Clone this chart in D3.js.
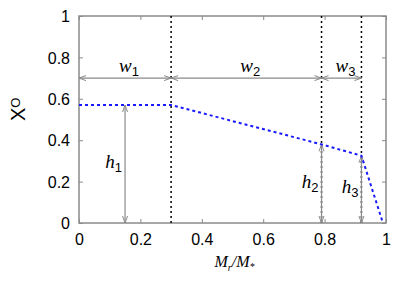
<!DOCTYPE html>
<html lang="en">
<head>
<meta charset="UTF-8">
<title>X_O profile</title>
<script src="https://d3js.org/d3.v7.min.js"></script>
<style>
  body { margin: 0; background: #fff; }
  text { font-family: "Liberation Sans", Arial, sans-serif; }
  .it { font-family: "Liberation Serif", "Times New Roman", serif; font-style: italic; }
</style>
</head>
<body>
<svg id="chart" width="415" height="291"></svg>
<script>
// profile of X_O against M_r/M_*
const profileX = [0, 0.3, 0.79, 0.92, 0.99];
const profileY = [0.57, 0.57, 0.38, 0.325, 0];

// zone boundaries (vertical dotted lines)
const bounds = [0.3, 0.79, 0.92];

// width arrows w1..w3 at X_O = 0.7
const wFrom = [0, 0.3, 0.79];
const wTo = [0.3, 0.79, 0.92];
const wLevel = 0.7;
const wNames = ["1", "2", "3"];

// height arrows h1..h3
const hX = [0.15, 0.79, 0.92];
const hTop = [0.57, 0.38, 0.325];
const hNames = ["1", "2", "3"];

const xTicks = [0, 0.2, 0.4, 0.6, 0.8, 1];
const yTicks = [0, 0.2, 0.4, 0.6, 0.8, 1];

const margin = { top: 16, right: 29, bottom: 68, left: 79 };
const width = 415 - margin.left - margin.right;
const height = 291 - margin.top - margin.bottom;

const svg = d3.select("#chart");
const g = svg.append("g")
    .attr("transform", `translate(${margin.left},${margin.top})`);

const x = d3.scaleLinear().domain([0, 1]).range([0, width]);
const y = d3.scaleLinear().domain([0, 1]).range([height, 0]);

const gray = "#8a8a8a";

// arrowhead marker (open, gnuplot style)
svg.append("defs").append("marker")
    .attr("id", "head")
    .attr("viewBox", "-8 -4 9 8")
    .attr("refX", 0).attr("refY", 0)
    .attr("markerWidth", 9).attr("markerHeight", 8)
    .attr("markerUnits", "userSpaceOnUse")
    .attr("orient", "auto-start-reverse")
    .append("path")
    .attr("d", "M-7,-2.5L0,0L-7,2.5")
    .attr("fill", "none")
    .attr("stroke", gray)
    .attr("stroke-width", 1);

// ticks (inside, mirrored)
const tickLen = 4;
g.append("g").call(d3.axisBottom(x).tickValues(xTicks).tickSize(-tickLen).tickFormat(d3.format("")))
    .attr("transform", `translate(0,${height})`)
    .call(a => a.select(".domain").remove())
    .call(a => a.selectAll("line").attr("stroke", gray))
    .call(a => a.selectAll("text").attr("dy", null).attr("y", 22)
        .attr("font-size", 16).attr("fill", "#000"));
g.append("g").call(d3.axisTop(x).tickValues(xTicks).tickSize(-tickLen).tickFormat(""))
    .call(a => a.select(".domain").remove())
    .call(a => a.selectAll("line").attr("stroke", gray));
g.append("g").call(d3.axisLeft(y).tickValues(yTicks).tickSize(-tickLen).tickFormat(d3.format("")))
    .call(a => a.select(".domain").remove())
    .call(a => a.selectAll("line").attr("stroke", gray))
    .call(a => a.selectAll("text").attr("x", -9).attr("dy", "0.35em")
        .attr("font-size", 16).attr("fill", "#000"));
g.append("g").call(d3.axisRight(y).tickValues(yTicks).tickSize(-tickLen).tickFormat(""))
    .attr("transform", `translate(${width},0)`)
    .call(a => a.select(".domain").remove())
    .call(a => a.selectAll("line").attr("stroke", gray));

// frame
g.append("rect")
    .attr("x", 0).attr("y", 0)
    .attr("width", width).attr("height", height)
    .attr("fill", "none")
    .attr("stroke", gray)
    .attr("stroke-width", 1.5);

// vertical dotted boundaries
g.selectAll(".bound").data(bounds).enter().append("line")
    .attr("x1", d => x(d)).attr("x2", d => x(d))
    .attr("y1", y(1)).attr("y2", y(0))
    .attr("stroke", "#000")
    .attr("stroke-width", 1.5)
    .attr("stroke-dasharray", "2,3");

// w arrows
g.selectAll(".warr").data(wFrom).enter().append("line")
    .attr("x1", d => x(d)).attr("x2", (d, i) => x(wTo[i]))
    .attr("y1", y(wLevel)).attr("y2", y(wLevel))
    .attr("stroke", gray)
    .attr("stroke-width", 1.2)
    .attr("marker-start", "url(#head)")
    .attr("marker-end", "url(#head)");

const wl = g.selectAll(".wlab").data(wFrom).enter().append("text")
    .attr("x", (d, i) => (x(d) + x(wTo[i])) / 2 + 4)
    .attr("y", y(wLevel) - 6)
    .attr("text-anchor", "middle");
wl.append("tspan").attr("class", "it").attr("font-size", 19).text("w");
wl.append("tspan").attr("font-size", 13).attr("dy", 4).text((d, i) => wNames[i]);

// h arrows
g.selectAll(".harr").data(hX).enter().append("line")
    .attr("x1", d => x(d)).attr("x2", d => x(d))
    .attr("y1", (d, i) => y(hTop[i])).attr("y2", y(0))
    .attr("stroke", gray)
    .attr("stroke-width", 1.2)
    .attr("marker-start", "url(#head)")
    .attr("marker-end", "url(#head)");

const hl = g.selectAll(".hlab").data(hX).enter().append("text")
    .attr("x", d => x(d) - 3)
    .attr("y", (d, i) => y(hTop[i] / 2) + 4)
    .attr("text-anchor", "end");
hl.append("tspan").attr("class", "it").attr("font-size", 19).text("h");
hl.append("tspan").attr("font-size", 13).attr("dy", 4).text((d, i) => hNames[i]);

// blue profile
const line = d3.line()
    .x((d, i) => x(profileX[i]))
    .y(d => y(d));
g.append("path")
    .datum(profileY)
    .attr("fill", "none")
    .attr("stroke", "#1a1aff")
    .attr("stroke-width", 2)
    .attr("stroke-dasharray", "3,3")
    .attr("d", line);

// axis labels
const xl = svg.append("text")
    .attr("class", "it")
    .attr("x", margin.left + width / 2 + 2)
    .attr("y", 267)
    .attr("text-anchor", "middle")
    .attr("font-size", 16);
xl.append("tspan").text("M");
xl.append("tspan").attr("font-size", 10).attr("dy", 4).text("r");
xl.append("tspan").attr("dy", -4).text("/M");
xl.append("tspan").attr("font-size", 10).attr("dy", 3).text("*");

const yl = svg.append("text")
    .attr("transform", "translate(25,121) rotate(-90)")
    .attr("font-size", 20);
yl.append("tspan").text("X");
yl.append("tspan").attr("font-size", 13).attr("dy", -5).text("O");
</script>
</body>
</html>
